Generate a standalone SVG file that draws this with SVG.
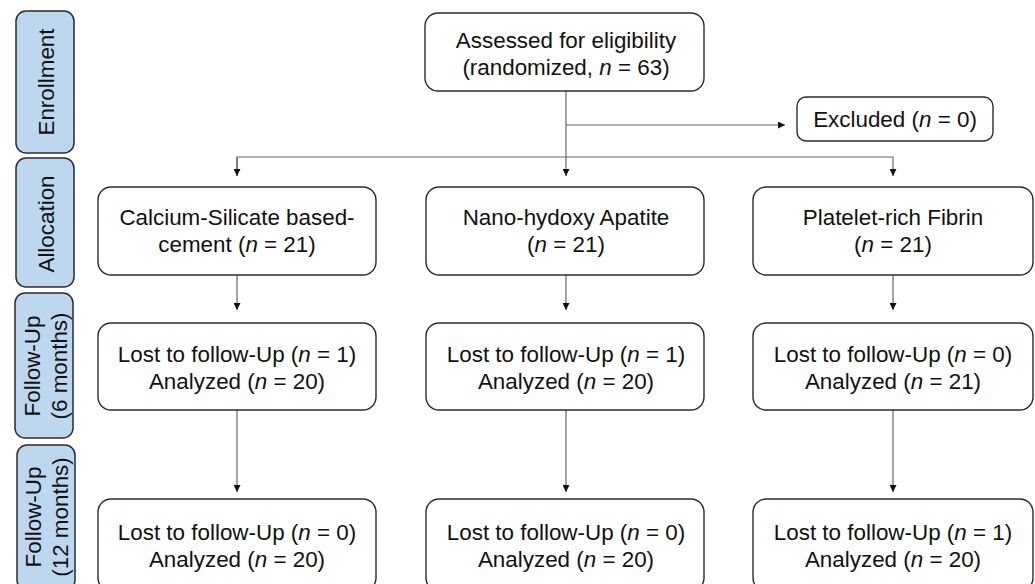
<svg xmlns="http://www.w3.org/2000/svg" width="1035" height="584" viewBox="0 0 1035 584">
<defs>
<style>
.lbl{fill:#bdd7ee;stroke:#2b2b2b;stroke-width:1.5}
.box{fill:#ffffff;stroke:#2b2b2b;stroke-width:1.4}
text{font-family:"Liberation Sans",Arial,sans-serif;font-size:22.4px;fill:#111;text-anchor:middle}
.c{fill:none;stroke:#666;stroke-width:1.2}
.i{font-style:italic}
</style>
<marker id="ah" viewBox="0 0 10 10" refX="10" refY="5" markerWidth="7" markerHeight="7" markerUnits="userSpaceOnUse" orient="auto">
<path d="M0,0 L10,5 L0,10 z" fill="#111"/>
</marker>
</defs>
<rect width="1035" height="584" fill="#ffffff"/>

<g id="stage-labels">
<g id="lbl-enrollment"><rect class="lbl" x="16" y="11" width="58" height="142" rx="10"/><text transform="rotate(-90)" x="-82" y="54">Enrollment</text></g>
<g id="lbl-allocation"><rect class="lbl" x="16" y="158" width="58" height="129" rx="10"/><text transform="rotate(-90)" x="-224" y="54">Allocation</text></g>
<g id="lbl-fu6"><rect class="lbl" x="15" y="293" width="58" height="145" rx="10"/><text transform="rotate(-90)" x="-366" y="40">Follow-Up</text><text transform="rotate(-90)" x="-366" y="67">(6 months)</text></g>
<g id="lbl-fu12"><rect class="lbl" x="17" y="445" width="58" height="145" rx="10"/><text transform="rotate(-90)" x="-517" y="41">Follow-Up</text><text transform="rotate(-90)" x="-517" y="68">(12 months)</text></g>
</g>

<g id="connectors">
<path class="c" d="M566,91 V176" marker-end="url(#ah)"/>
<path class="c" d="M566,125 H785" marker-end="url(#ah)"/>
<path class="c" d="M237,176 V157 H893 V176" marker-end="url(#ah)"/>
<path class="c" d="M237,157 V176" marker-end="url(#ah)"/>
<path class="c" d="M237,275 V310" marker-end="url(#ah)"/>
<path class="c" d="M566,275 V310" marker-end="url(#ah)"/>
<path class="c" d="M893,275 V310" marker-end="url(#ah)"/>
<path class="c" d="M237,410 V492" marker-end="url(#ah)"/>
<path class="c" d="M566,410 V492" marker-end="url(#ah)"/>
<path class="c" d="M893,410 V492" marker-end="url(#ah)"/>
</g>

<g id="assessed"><rect class="box" x="425" y="13" width="279" height="78" rx="13"/><text x="566" y="48">Assessed for eligibility</text><text x="566" y="75">(randomized, <tspan class="i">n</tspan> = 63)</text></g>
<g id="excluded"><rect class="box" x="797" y="97" width="196" height="44" rx="9"/><text x="895" y="127">Excluded (<tspan class="i">n</tspan> = 0)</text></g>

<g id="alloc-csc"><rect class="box" x="98" y="187" width="278" height="88" rx="13"/><text x="237" y="225">Calcium-Silicate based-</text><text x="237" y="252">cement (<tspan class="i">n</tspan> = 21)</text></g>
<g id="alloc-nha"><rect class="box" x="426" y="187" width="278" height="88" rx="13"/><text x="566" y="225">Nano-hydoxy Apatite</text><text x="566" y="252">(<tspan class="i">n</tspan> = 21)</text></g>
<g id="alloc-prf"><rect class="box" x="753" y="187" width="280" height="88" rx="13"/><text x="893" y="225">Platelet-rich Fibrin</text><text x="893" y="252">(<tspan class="i">n</tspan> = 21)</text></g>

<g id="fu6-csc"><rect class="box" x="98" y="323" width="278" height="87" rx="13"/><text x="237" y="362">Lost to follow-Up (<tspan class="i">n</tspan> = 1)</text><text x="237" y="389">Analyzed (<tspan class="i">n</tspan> = 20)</text></g>
<g id="fu6-nha"><rect class="box" x="426" y="323" width="278" height="87" rx="13"/><text x="566" y="362">Lost to follow-Up (<tspan class="i">n</tspan> = 1)</text><text x="566" y="389">Analyzed (<tspan class="i">n</tspan> = 20)</text></g>
<g id="fu6-prf"><rect class="box" x="753" y="323" width="280" height="87" rx="13"/><text x="893" y="362">Lost to follow-Up (<tspan class="i">n</tspan> = 0)</text><text x="893" y="389">Analyzed (<tspan class="i">n</tspan> = 21)</text></g>

<g id="fu12-csc"><rect class="box" x="98" y="499" width="278" height="92" rx="13"/><text x="237" y="540">Lost to follow-Up (<tspan class="i">n</tspan> = 0)</text><text x="237" y="567">Analyzed (<tspan class="i">n</tspan> = 20)</text></g>
<g id="fu12-nha"><rect class="box" x="426" y="499" width="278" height="92" rx="13"/><text x="566" y="540">Lost to follow-Up (<tspan class="i">n</tspan> = 0)</text><text x="566" y="567">Analyzed (<tspan class="i">n</tspan> = 20)</text></g>
<g id="fu12-prf"><rect class="box" x="753" y="499" width="280" height="92" rx="13"/><text x="893" y="540">Lost to follow-Up (<tspan class="i">n</tspan> = 1)</text><text x="893" y="567">Analyzed (<tspan class="i">n</tspan> = 20)</text></g>
</svg>
